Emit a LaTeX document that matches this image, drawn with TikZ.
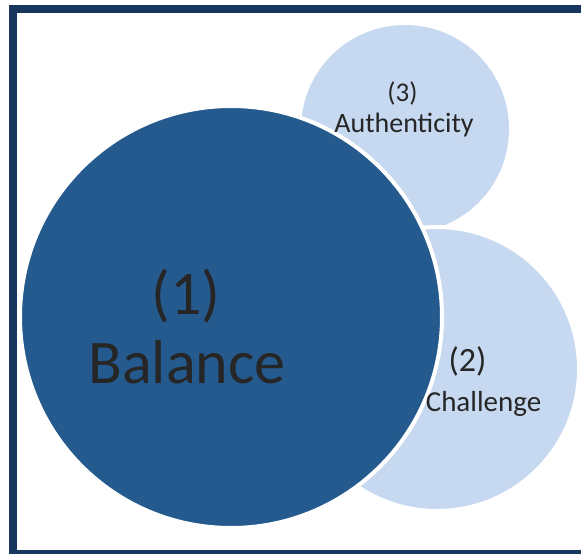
\documentclass[tikz,border=0pt]{standalone}
\usepackage{fontspec}
\setmainfont{Carlito}
\definecolor{framecol}{HTML}{17375E}
\definecolor{darkblue}{HTML}{245A8E}
\definecolor{lightblue}{HTML}{C6D9F0}
\definecolor{txt}{HTML}{262626}
\tikzset{
  bubble/.style={circle, inner sep=0pt, outer sep=0pt, line width=4pt},
  lightbubble/.style={bubble, fill=lightblue},
  darkbubble/.style={bubble, fill=darkblue, draw=white},
  lbl/.style={anchor=base, inner sep=0pt, text=txt}
}
\begin{document}
\begin{tikzpicture}[x=1pt,y=-1pt]
\useasboundingbox (0,0) rectangle (581,554);
\clip (0,0) rectangle (581,554);
\fill[white] (0,0) rectangle (581,554);
\draw[framecol, line width=8pt] (13,554) -- (13,9) -- (600,9);
\draw[framecol, line width=8pt] (13,554) -- (600,554);
% circles
\node[lightbubble, minimum size=208pt] (c3) at (405,129) {};
\node[lightbubble, draw=white, minimum size=284pt] (c2) at (437,369) {};
\node[darkbubble, minimum size=422pt] (c1) at (231,317) {};
% labels
\node[lbl, font=\fontsize{62}{62}\selectfont] (n1) at (186,314) {(1)};
\node[lbl, font=\fontsize{62}{62}\selectfont] (b1) at (187,383) {Balance};
\node[lbl, font=\fontsize{34}{34}\selectfont] (n2) at (467.5,371) {(2)};
\node[lbl, font=\fontsize{29}{29}\selectfont] (b2) at (483.5,411) {Challenge};
\node[lbl, font=\fontsize{27}{27}\selectfont] (n3) at (402.5,101) {(3)};
\node[lbl, font=\fontsize{28}{28}\selectfont] (b3) at (404,132) {Authenticity};
\end{tikzpicture}
\end{document}
